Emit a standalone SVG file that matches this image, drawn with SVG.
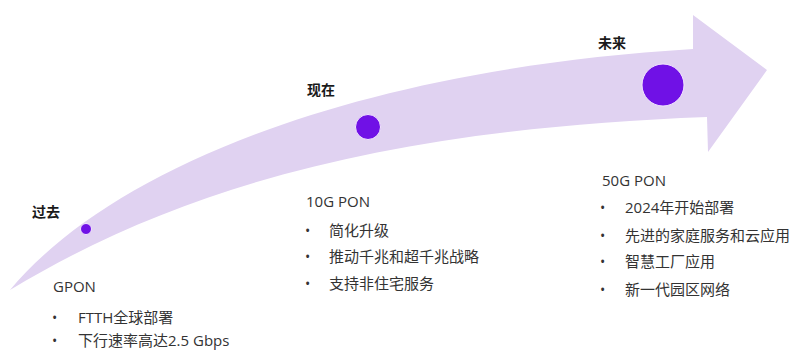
<svg xmlns="http://www.w3.org/2000/svg" width="791" height="350" viewBox="0 0 791 350">
<style>
.arrow{fill:#e0d2f1}
.dot{fill:#7011e6;stroke:#f3e6ff;stroke-width:1}
.h{font-family:"Noto Sans CJK SC",sans-serif;font-size:14px;font-weight:bold;fill:#1a1a1a}
.t{font-family:"Open Sans","Noto Sans CJK SC",sans-serif;font-size:15px;fill:#333}
.b{font-family:"Open Sans",sans-serif;font-size:14px;fill:#333}
</style>
<rect width="791" height="350" fill="#fff"/>
<g id="arrow">
<path class="arrow" d="M10,290 C110,170 350,70 693,49 L693,15 L767,70 L708,152 L707,117 C420,128 200,175 10,290 Z"/>
</g>
<g id="past">
<circle class="dot" cx="86" cy="229" r="5.5"/>
<text class="h" x="32" y="217">过去</text>
<text class="t" x="53" y="292">GPON</text>
<text class="b" x="52" y="323">•</text>
<text class="t" x="78" y="323">FTTH全球部署</text>
<text class="b" x="52" y="346">•</text>
<text class="t" x="78" y="346">下行速率高达2.5 Gbps</text>
</g>
<g id="present">
<circle class="dot" cx="368" cy="127" r="12.5"/>
<text class="h" x="307" y="95">现在</text>
<text class="t" x="306" y="207">10G PON</text>
<text class="b" x="305" y="236">•</text>
<text class="t" x="329" y="236">简化升级</text>
<text class="b" x="305" y="262">•</text>
<text class="t" x="329" y="262">推动千兆和超千兆战略</text>
<text class="b" x="305" y="289">•</text>
<text class="t" x="329" y="289">支持非住宅服务</text>
</g>
<g id="future">
<circle class="dot" cx="663" cy="85" r="21"/>
<text class="h" x="598" y="48">未来</text>
<text class="t" x="602" y="186">50G PON</text>
<text class="b" x="600" y="213">•</text>
<text class="t" x="625" y="213">2024年开始部署</text>
<text class="b" x="600" y="241">•</text>
<text class="t" x="625" y="241">先进的家庭服务和云应用</text>
<text class="b" x="600" y="267">•</text>
<text class="t" x="625" y="267">智慧工厂应用</text>
<text class="b" x="600" y="295">•</text>
<text class="t" x="625" y="295">新一代园区网络</text>
</g>
<g id="connectors"></g>
</svg>
